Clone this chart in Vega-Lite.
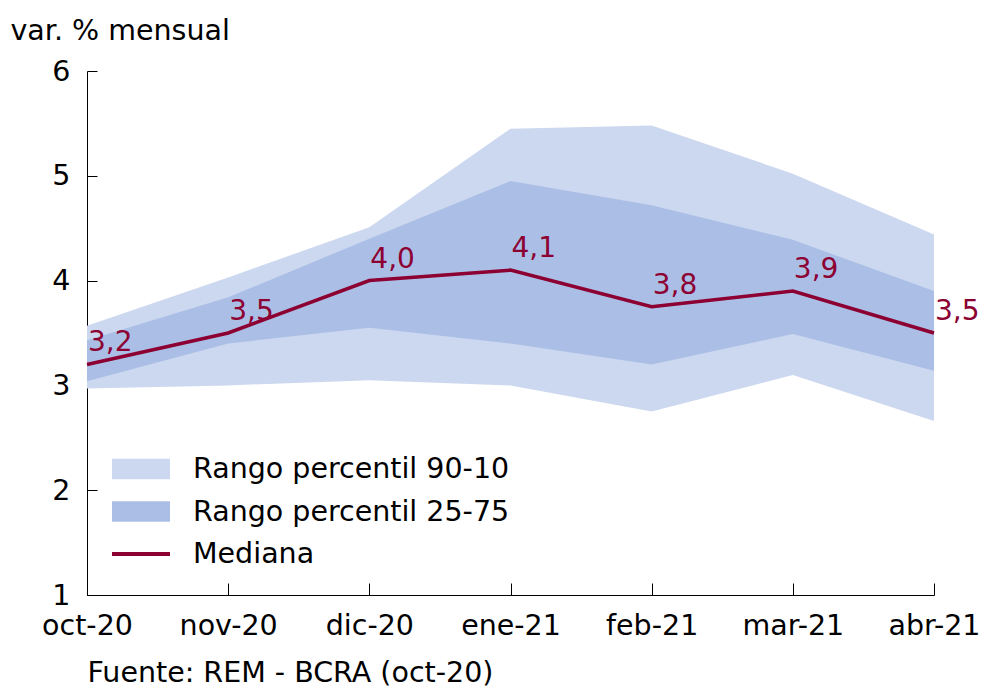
{
  "$schema": "https://vega.github.io/schema/vega-lite/v6.json",
  "width": 847,
  "height": 524,
  "autosize": {"type": "none"},
  "padding": {"left": 87, "top": 71, "right": 47, "bottom": 93},
  "background": "white",
  "config": {
    "view": {"stroke": null},
    "font": "DejaVu Sans",
    "locale": {"number": {"decimal": ",", "thousands": ".", "grouping": [3], "currency": ["$", ""]}},
    "axis": {"labelFont": "DejaVu Sans", "titleFont": "DejaVu Sans", "labelColor": "black", "titleColor": "black", "domainColor": "black", "tickColor": "black", "labelFontSize": 28.5, "titleFontSize": 28.5, "titleFontWeight": "normal", "grid": false, "domainWidth": 1, "tickWidth": 1}
  },
  "data": {
    "values": [
      {"mes": "oct-20", "p10": 2.97, "p25": 3.04, "med": 3.2, "p75": 3.43, "p90": 3.57},
      {"mes": "nov-20", "p10": 3.0, "p25": 3.4, "med": 3.5, "p75": 3.84, "p90": 4.03},
      {"mes": "dic-20", "p10": 3.05, "p25": 3.55, "med": 4.0, "p75": 4.4, "p90": 4.51},
      {"mes": "ene-21", "p10": 3.0, "p25": 3.4, "med": 4.1, "p75": 4.95, "p90": 5.45},
      {"mes": "feb-21", "p10": 2.75, "p25": 3.2, "med": 3.75, "p75": 4.72, "p90": 5.48},
      {"mes": "mar-21", "p10": 3.1, "p25": 3.49, "med": 3.9, "p75": 4.39, "p90": 5.02},
      {"mes": "abr-21", "p10": 2.66, "p25": 3.14, "med": 3.5, "p75": 3.9, "p90": 4.44}
    ]
  },
  "encoding": {
    "x": {
      "field": "mes", "type": "ordinal", "sort": null,
      "scale": {"type": "point", "padding": 0},
      "axis": {
        "labelAngle": 0, "tickSize": -12, "labelPadding": 28,
        "title": "Fuente: REM - BCRA (oct-20)",
        "titleAnchor": "start", "titleAlign": "left", "titleX": 0, "titleY": 86, "titleBaseline": "alphabetic"
      }
    }
  },
  "layer": [
    {
      "mark": {"type": "area", "opacity": 1},
      "encoding": {
        "y": {"field": "p10", "type": "quantitative",
          "scale": {"domain": [1, 6], "nice": false, "zero": false},
          "axis": {"values": [1, 2, 3, 4, 5, 6], "tickSize": -10, "labelPadding": 27, "format": "d",
            "title": "var. % mensual", "titleAngle": 0, "titleAlign": "left", "titleX": -77, "titleY": -32, "titleBaseline": "alphabetic", "titleAnchor": "start"}},
        "y2": {"field": "p90"},
        "color": {
          "datum": "Rango percentil 90-10",
          "type": "nominal",
          "scale": {"domain": ["Rango percentil 90-10", "Rango percentil 25-75", "Mediana"], "range": ["#CCD8EF", "#ABBFE6", "#8C0032"]},
          "legend": {
            "title": null, "orient": "none", "legendX": 39.5, "legendY": 383.5, "padding": 0,
            "labelFont": "DejaVu Sans", "labelFontSize": 28.5, "labelColor": "black", "labelOffset": 37.5, "labelLimit": 0,
            "rowPadding": 13.5, "symbolSize": 841, "symbolStrokeWidth": 0, "symbolOpacity": 1,
            "symbolType": {"expr": "datum.value === 'Mediana' ? 'M-2,-0.13H2V0.13H-2Z' : 'M-2,-0.7H2V0.7H-2Z'"}
          }
        }
      }
    },
    {
      "mark": {"type": "area", "opacity": 1},
      "encoding": {
        "y": {"field": "p25", "type": "quantitative"},
        "y2": {"field": "p75"},
        "color": {"datum": "Rango percentil 25-75", "type": "nominal"}
      }
    },
    {
      "mark": {"type": "line", "strokeWidth": 3.5},
      "encoding": {
        "y": {"field": "med", "type": "quantitative"},
        "color": {"datum": "Mediana", "type": "nominal"}
      }
    },
    {
      "mark": {"type": "text", "align": "left", "baseline": "alphabetic", "dx": 1, "dy": -13, "fontSize": 28, "font": "DejaVu Sans", "color": "#8C0032"},
      "encoding": {
        "y": {"field": "med", "type": "quantitative"},
        "text": {"field": "med", "type": "quantitative", "format": ".1f"}
      }
    }
  ]
}
